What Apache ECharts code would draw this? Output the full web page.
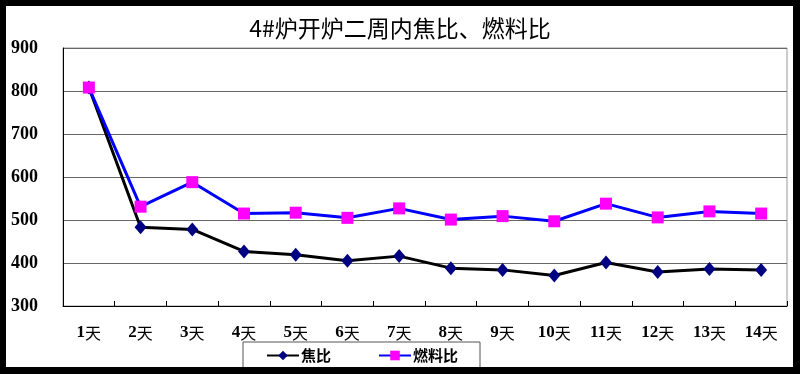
<!DOCTYPE html>
<html>
<head>
<meta charset="utf-8">
<script src="https://cdn.jsdelivr.net/npm/echarts@6/dist/echarts.min.js"></script>
<style>
html,body{margin:0;padding:0;background:#fff;}
#main{width:800px;height:374px;}
</style>
</head>
<body>
<div id="main"></div>
<script>
const titleText = '4#炉开炉二周内焦比、燃料比';
const categories = ['1天','2天','3天','4天','5天','6天','7天','8天','9天','10天','11天','12天','13天','14天'];
const cokeRatio = [808, 483, 478, 427, 419, 405, 416, 388, 384, 371, 401, 379, 386, 384];
const fuelRatio = [808, 531, 588, 515, 517, 505, 527, 501, 509, 497, 538, 506, 520, 515];
const seriesNames = ['焦比', '燃料比'];
const yMin = 300, yMax = 900, yStep = 100;

const chart = echarts.init(document.getElementById('main'));
chart.setOption({
  backgroundColor: '#fff',
  animation: false,
  title: {
    text: titleText,
    left: 'center',
    top: 12,
    textStyle: {fontFamily: '"Noto Sans CJK SC", "Liberation Serif", serif', fontSize: 23, fontWeight: 'normal', color: '#000'}
  },
  legend: {
    data: seriesNames,
    left: 243,
    top: 342,
    padding: [6, 22, 20, 23],
    itemGap: 47,
    itemWidth: 32,
    itemHeight: 12,
    borderColor: '#555',
    borderWidth: 1,
    backgroundColor: '#fff',
    textStyle: {fontFamily: '"Noto Sans CJK SC", sans-serif', fontSize: 15, fontWeight: 'bold', color: '#000', padding: [0,0,0,-3]}
  },
  grid: {left: 63, right: 13, top: 48, bottom: 68, show: true, borderColor: '#999', borderWidth: 1, backgroundColor: '#fff'},
  xAxis: {
    type: 'category',
    data: categories,
    boundaryGap: true,
    axisLine: {lineStyle: {color: '#000', width: 1}},
    axisTick: {show: true, inside: true, length: 5, interval: 0, lineStyle: {color: '#000'}},
    axisLabel: {
      interval: 0,
      margin: 18,
      formatter: function (v) { return '{d|' + v.replace('天','') + '}{c|天}'; },
      rich: {
        d: {fontFamily: '"Liberation Serif", serif', fontWeight: 'bold', fontSize: 17, color: '#000'},
        c: {fontFamily: '"Noto Sans CJK SC", sans-serif', fontSize: 16, color: '#000'}
      }
    }
  },
  yAxis: {
    type: 'value',
    min: yMin, max: yMax, interval: yStep,
    axisLine: {show: true, lineStyle: {color: '#000', width: 1}},
    axisTick: {show: false},
    splitLine: {lineStyle: {color: '#666', width: 1}},
    axisLabel: {margin: 25, fontFamily: '"Liberation Serif", serif', fontWeight: 'bold', fontSize: 18, color: '#000'}
  },
  series: [
    {
      name: seriesNames[0], type: 'line', data: cokeRatio,
      symbol: 'diamond', symbolSize: [12, 14],
      lineStyle: {color: '#000', width: 3},
      itemStyle: {color: '#000080', borderWidth: 0}
    },
    {
      name: seriesNames[1], type: 'line', data: fuelRatio,
      symbol: 'rect', symbolSize: 12,
      lineStyle: {color: '#0000ff', width: 3},
      itemStyle: {color: '#ff00ff', borderWidth: 0}
    }
  ],
  graphic: [
    {type: 'rect', z: 100, shape: {x: 0, y: 0, width: 800, height: 6}, style: {fill: '#000'}},
    {type: 'rect', z: 100, shape: {x: 0, y: 0, width: 6, height: 374}, style: {fill: '#000'}},
    {type: 'rect', z: 100, shape: {x: 793, y: 0, width: 7, height: 374}, style: {fill: '#000'}},
    {type: 'rect', z: 100, shape: {x: 0, y: 367, width: 800, height: 7}, style: {fill: '#000'}}
  ]
});
</script>
</body>
</html>
